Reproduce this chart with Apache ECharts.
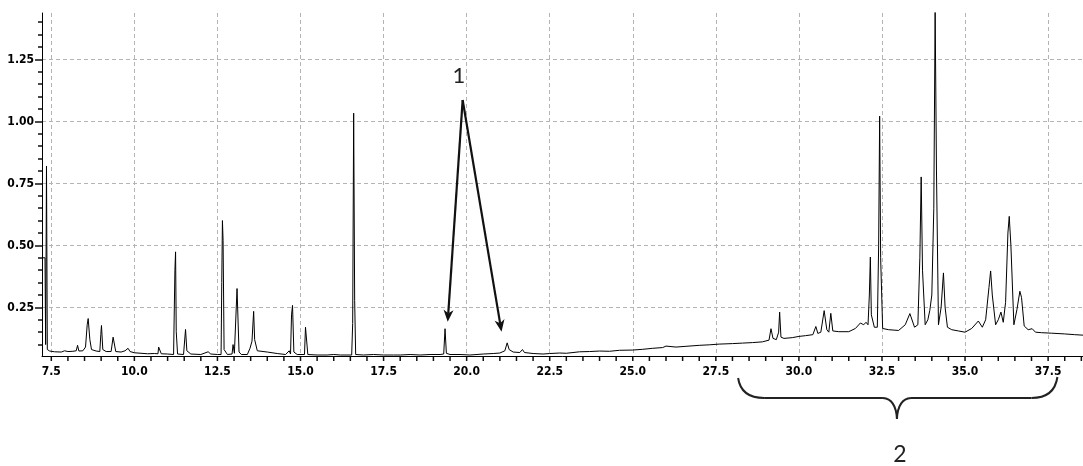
<!DOCTYPE html>
<html><head><meta charset="utf-8">
<script src="https://cdn.jsdelivr.net/npm/echarts@6/dist/echarts.min.js"></script>
<style>html,body{margin:0;padding:0;background:#fff}#c{width:1083px;height:466px}</style>
</head><body><div id="c"></div>
<script>
// ---- tick values ----
const xMajorTicks = [7.5, 10, 12.5, 15, 17.5, 20, 22.5, 25, 27.5, 30, 32.5, 35, 37.5];
const xMinorTicks = [7.5, 8, 8.5, 9, 9.5, 10, 10.5, 11, 11.5, 12, 12.5, 13, 13.5, 14, 14.5, 15, 15.5, 16, 16.5, 17, 17.5, 18, 18.5, 19, 19.5, 20, 20.5, 21, 21.5, 22, 22.5, 23, 23.5, 24, 24.5, 25, 25.5, 26, 26.5, 27, 27.5, 28, 28.5, 29, 29.5, 30, 30.5, 31, 31.5, 32, 32.5, 33, 33.5, 34, 34.5, 35, 35.5, 36, 36.5, 37, 37.5, 38, 38.5];
const yMajorTicks = [0.25, 0.5, 0.75, 1.0, 1.25];
const yMinorTicks = [0.10, 0.15, 0.20, 0.25, 0.30, 0.35, 0.40, 0.45, 0.50, 0.55, 0.60, 0.65, 0.70, 0.75, 0.80, 0.85, 0.90, 0.95, 1.00, 1.05, 1.10, 1.15, 1.20, 1.25, 1.30, 1.35, 1.40];

// ---- chromatogram [retention time, signal] ----
const chromA = [
  [7.22,0.45],[7.31,0.45],[7.33,0.10],[7.355,0.82],[7.38,0.08],[7.45,0.074],[7.6,0.071],[7.8,0.070],[7.9,0.075],[8.0,0.072],
  [8.15,0.073],[8.25,0.075],[8.29,0.097],[8.33,0.074],[8.45,0.075],[8.53,0.09],[8.58,0.18],[8.61,0.205],[8.66,0.12],[8.71,0.08],
  [8.85,0.074],[8.96,0.072],[8.99,0.14],[9.01,0.177],[9.05,0.08],[9.11,0.088],[9.15,0.072],[9.3,0.072],[9.36,0.13],[9.40,0.128],
  [9.44,0.072],[9.6,0.070],[9.72,0.075],[9.81,0.085],[9.87,0.072],[10.0,0.067],[10.2,0.065],[10.4,0.063],[10.6,0.064],[10.71,0.063],
  [10.73,0.09],[10.78,0.088],[10.81,0.063],[11.0,0.062],[11.18,0.060],[11.22,0.40],[11.24,0.474],[11.26,0.152],[11.30,0.062],[11.48,0.060],
  [11.54,0.161],[11.58,0.075],[11.7,0.062],[12.0,0.060],[12.22,0.071],[12.3,0.062],[12.5,0.060],[12.61,0.060],[12.63,0.35],[12.65,0.60],
  [12.67,0.519],[12.70,0.08],[12.8,0.060],[12.94,0.062],[12.97,0.10],[13.01,0.065],[13.07,0.07],[13.09,0.326],[13.12,0.32],[13.15,0.07],
  [13.22,0.060],[13.4,0.060],[13.48,0.085],[13.54,0.114],[13.59,0.234],[13.62,0.12],[13.7,0.075],[14.0,0.070],[14.3,0.064],[14.55,0.060],
  [14.66,0.075],[14.7,0.062],[14.73,0.22],[14.76,0.258],[14.80,0.07],[14.9,0.060],[15.12,0.060],[15.15,0.17],[15.18,0.176],[15.22,0.060],
  [15.5,0.058],[15.8,0.058],[16.0,0.060],[16.2,0.058],[16.54,0.058],[16.57,0.185],[16.60,1.033],[16.63,0.277],[16.66,0.060],[16.9,0.058],
  [17.2,0.060],[17.5,0.058],[17.8,0.058]
];
const chromB = [
  [18.0,0.058],[18.3,0.060],[18.6,0.058],[18.9,0.060],[19.2,0.060],[19.31,0.062],[19.35,0.164],[19.39,0.065],[19.5,0.060],[19.8,0.060],
  [20.1,0.058],[20.5,0.062],[20.8,0.064],[21.0,0.066],[21.15,0.075],[21.22,0.107],[21.28,0.080],[21.4,0.070],[21.6,0.068],[21.68,0.080],
  [21.74,0.068],[22.0,0.064],[22.3,0.062],[22.5,0.064],[22.8,0.066],[23.0,0.065],[23.4,0.071],[23.7,0.072],[24.0,0.074],[24.3,0.073],
  [24.6,0.077],[25.0,0.078],[25.3,0.081],[25.6,0.085],[25.9,0.088],[26.0,0.094],[26.3,0.090],[26.6,0.093],[27.0,0.097],[27.3,0.099],
  [27.6,0.102],[28.0,0.104]
];
const chromC = [
  [28.3,0.106],[28.6,0.108],[28.9,0.111],[29.1,0.118],[29.16,0.164],[29.22,0.125],[29.32,0.120],[29.39,0.15],[29.42,0.231],[29.46,0.130],
  [29.55,0.125],[29.8,0.128],[30.0,0.133],[30.2,0.136],[30.42,0.140],[30.51,0.173],[30.57,0.145],[30.66,0.150],[30.76,0.237],[30.84,0.160],
  [30.90,0.150],[30.96,0.226],[31.02,0.155],[31.2,0.152],[31.5,0.152],[31.7,0.165],[31.85,0.187],[31.95,0.180],[32.02,0.190],[32.08,0.180],
  [32.12,0.30],[32.15,0.453],[32.18,0.22],[32.22,0.226],[32.27,0.170],[32.36,0.170],[32.40,0.50],[32.43,1.021],[32.46,0.45],[32.52,0.165],
  [32.7,0.160],[33.0,0.157],[33.2,0.180],[33.34,0.225],[33.48,0.170],[33.58,0.180],[33.64,0.45],[33.68,0.776],[33.72,0.40],[33.80,0.180],
  [33.88,0.200],[33.94,0.238],[34.0,0.30],[34.06,0.65],[34.10,1.45],[34.14,0.80],[34.2,0.180],[34.28,0.25],[34.35,0.389],[34.40,0.25],
  [34.47,0.170],[34.6,0.160],[34.8,0.155],[35.0,0.150],[35.2,0.165],[35.40,0.195],[35.52,0.170],[35.62,0.200],[35.72,0.33],[35.77,0.397],
  [35.82,0.30],[35.92,0.180],[36.0,0.200],[36.08,0.231],[36.15,0.190],[36.22,0.27],[36.29,0.55],[36.33,0.617],[36.38,0.50],[36.47,0.180],
  [36.56,0.240],[36.65,0.315],[36.70,0.290],[36.78,0.175],[36.9,0.160],[37.02,0.164],[37.12,0.150],[37.3,0.148],[37.6,0.146],[38.0,0.143],
  [38.3,0.140],[38.55,0.138]
];

// ---- annotations (data coords) ----
const arrowApex = [19.88, 1.086];
const arrowTips = [[19.43, 0.192], [21.05, 0.152]];
const label1Pos = [19.77, 1.183];
const braceRange = [28.17, 32.95, 37.78];

const X_MIN = 7.22, X_MAX = 38.55, Y_MIN = 0.054, Y_MAX = 1.437;
const tickFont = { fontFamily: "'DejaVu Sans Condensed',sans-serif", fontWeight: 'bold', fontSize: 12, color: '#000' };
const gridLine = { show: true, lineStyle: { color: '#b4b4b4', type: [4, 3], width: 1 } };

const chart = echarts.init(document.getElementById('c'));
chart.setOption({
  animation: false,
  grid: { left: 42, right: 0, top: 13, bottom: 110 },
  xAxis: [
    { type: 'value', min: X_MIN, max: X_MAX, position: 'bottom',
      axisLine: { show: true, onZero: false, lineStyle: { color: '#000', width: 1 } },
      axisTick: { show: false, customValues: xMajorTicks },
      axisLabel: Object.assign({ customValues: xMajorTicks, margin: 10, formatter: v => v.toFixed(1) }, tickFont),
      splitLine: gridLine }
  ],
  yAxis: [
    { type: 'value', min: Y_MIN, max: Y_MAX, position: 'left',
      axisLine: { show: true, onZero: false, lineStyle: { color: '#000', width: 1 } },
      axisTick: { show: true, length: 7, customValues: yMajorTicks, lineStyle: { color: '#111', width: 1.5 } },
      axisLabel: Object.assign({ customValues: yMajorTicks, margin: 8, formatter: v => v.toFixed(2) }, tickFont),
      splitLine: gridLine },
    { type: 'value', min: Y_MIN, max: Y_MAX, position: 'left',
      axisLine: { show: false },
      axisTick: { show: true, length: 4, customValues: yMinorTicks, lineStyle: { color: '#111', width: 1.5 } },
      axisLabel: { show: false }, splitLine: { show: false } }
  ],
  series: [{
    type: 'line', xAxisIndex: 0, yAxisIndex: 0,
    data: chromA.concat(chromB, chromC),
    showSymbol: false, symbol: 'none', clip: true, sampling: null,
    lineStyle: { color: '#000', width: 1 }
  }]
});

const px = pt => chart.convertToPixel({ xAxisIndex: 0, yAxisIndex: 0 }, pt);
const els = [];
// x-axis ticks, placed through the axis scale
const axisY = px([X_MIN, Y_MIN])[1];
xMinorTicks.forEach(v => {
  const x = px([v, Y_MIN])[0];
  els.push({ type: 'line', silent: true, shape: { x1: x, y1: axisY, x2: x, y2: axisY + 5 }, style: { stroke: '#111', lineWidth: 1.5 } });
});
const apex = px(arrowApex);
arrowTips.forEach(t => {
  const tip = px(t);
  const dx = tip[0] - apex[0], dy = tip[1] - apex[1];
  const L = Math.hypot(dx, dy), ux = dx / L, uy = dy / L, nx = -uy, ny = ux;
  const hl = 12, hw = 5;
  const base = [tip[0] - ux * hl, tip[1] - uy * hl];
  const notch = [tip[0] - ux * hl * 0.72, tip[1] - uy * hl * 0.72];
  els.push({ type: 'line', shape: { x1: apex[0], y1: apex[1], x2: notch[0], y2: notch[1] }, style: { stroke: '#111', lineWidth: 2.2 } });
  els.push({ type: 'polygon', shape: { points: [tip, [base[0] + nx * hw, base[1] + ny * hw], notch, [base[0] - nx * hw, base[1] - ny * hw]] }, style: { fill: '#111' } });
});
const l1 = px(label1Pos);
els.push({ type: 'text', x: l1[0], y: l1[1], style: { text: '1', fontSize: 22, fontFamily: 'Lato, "Open Sans", sans-serif', fill: '#222', align: 'center', verticalAlign: 'middle' } });

const Lx = px([braceRange[0], 0.1])[0], Cx = px([braceRange[1], 0.1])[0], Rx = px([braceRange[2], 0.1])[0];
const yT = 378, yF = 398, yP = 419;
const bs = { stroke: '#222', lineWidth: 2, fill: 'none' };
els.push({ type: 'bezierCurve', shape: { x1: Lx, y1: yT, cpx1: Lx + 3, cpy1: yF, x2: Lx + 26, y2: yF }, style: bs });
els.push({ type: 'line', shape: { x1: Lx + 26, y1: yF, x2: Cx - 14, y2: yF }, style: bs });
els.push({ type: 'bezierCurve', shape: { x1: Cx - 14, y1: yF, cpx1: Cx - 1, cpy1: yF + 1, x2: Cx, y2: yP }, style: bs });
els.push({ type: 'bezierCurve', shape: { x1: Cx, y1: yP, cpx1: Cx + 1, cpy1: yF + 1, x2: Cx + 14, y2: yF }, style: bs });
els.push({ type: 'line', shape: { x1: Cx + 14, y1: yF, x2: Rx - 26, y2: yF }, style: bs });
els.push({ type: 'bezierCurve', shape: { x1: Rx - 26, y1: yF, cpx1: Rx - 3, cpy1: yF, x2: Rx, y2: yT - 1 }, style: bs });
els.push({ type: 'text', x: Cx + 3, y: 455, style: { text: '2', fontSize: 23, fontFamily: 'Lato, "Open Sans", sans-serif', fill: '#222', align: 'center', verticalAlign: 'middle' } });
chart.setOption({ graphic: els });
</script>
</body></html>
